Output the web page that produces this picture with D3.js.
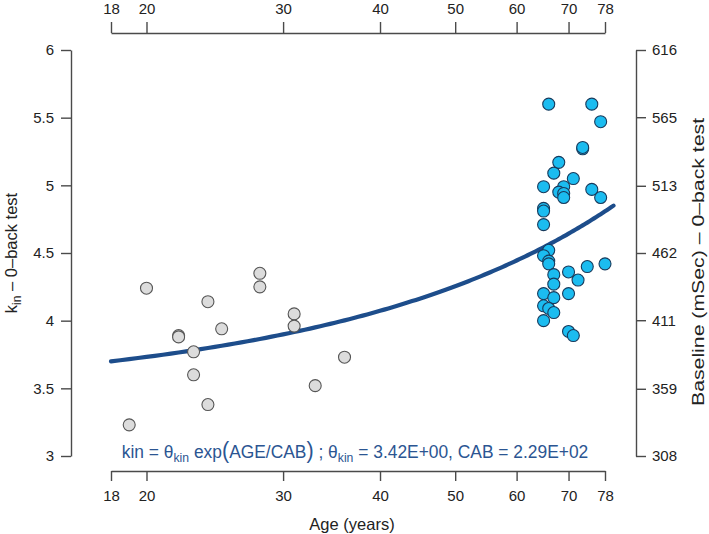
<!DOCTYPE html>
<html>
<head>
<meta charset="utf-8">
<script src="https://cdn.jsdelivr.net/npm/d3@7"></script>
<style>
  html, body { margin: 0; padding: 0; background: #fff; }
  svg { display: block; font-family: "Liberation Sans", Arial, Helvetica, sans-serif; }
</style>
</head>
<body>
<svg id="chart" width="709" height="534"></svg>
<script>
// ---- data ----
const xTickValues = [18, 20, 30, 40, 50, 60, 70, 78];
const leftTickValues = [3, 3.5, 4, 4.5, 5, 5.5, 6];
const rightTickValues = [308, 359, 411, 462, 513, 565, 616];

// young participants (grey)
const youngAge = [19, 20, 22, 22, 23, 23, 24, 24, 25, 28, 28, 31, 31, 33, 36];
const youngKin = [3.23, 4.24, 3.89, 3.88, 3.77, 3.60, 4.14, 3.38, 3.94, 4.35, 4.25, 4.05, 3.96, 3.52, 3.73];

// older participants (blue)
const oldAge = [66, 75, 77, 73, 73, 68, 67, 71, 65, 69, 68, 69, 69, 75, 77, 65, 65, 65, 66, 65, 66, 66, 67, 70, 74, 78, 72, 67, 65, 67, 70, 65, 66, 67, 65, 70, 71];
const oldKin = [5.60, 5.60, 5.47, 5.27, 5.28, 5.17, 5.09, 5.05, 4.99, 4.99, 4.95, 4.94, 4.91, 4.97, 4.91, 4.83, 4.81, 4.71, 4.52, 4.48, 4.44, 4.42, 4.34, 4.36, 4.40, 4.42, 4.30, 4.27, 4.20, 4.17, 4.20, 4.11, 4.09, 4.06, 4.00, 3.92, 3.89];

// fitted model: kin = thetaKin * exp(AGE / CAB)
const thetaKin = 3.42;
const CAB = 229;
const curveAgeRange = [18, 80];

// ---- layout ----
const svg = d3.select("#chart");
const axisColor = "#4a4a4a";
const x = d3.scaleLog().domain([18, 78]).range([111, 605]);
const y = d3.scaleLinear().domain([3, 6]).range([456, 50]);
const yRight = d3.scaleLinear().domain([308, 616]).range([456, 50]);

function styleAxis(g) {
  g.selectAll("path.domain").attr("stroke", axisColor).attr("stroke-width", 1.4);
  g.selectAll(".tick line").attr("stroke", axisColor).attr("stroke-width", 1.4);
  g.selectAll(".tick text").attr("fill", "#222").style("font-size", "15px")
    .style("font-family", '"Liberation Sans", Arial, sans-serif');
}

// bottom axis
svg.append("g").attr("transform", "translate(0,471)")
  .call(d3.axisBottom(x).tickValues(xTickValues).tickFormat(d3.format("d")).tickSize(10).tickSizeOuter(0).tickPadding(9))
  .call(styleAxis);
// top axis
svg.append("g").attr("transform", "translate(0,33)")
  .call(d3.axisTop(x).tickValues(xTickValues).tickFormat(d3.format("d")).tickSize(11).tickSizeOuter(0).tickPadding(8))
  .call(styleAxis);
// left axis
svg.append("g").attr("transform", "translate(71,0)")
  .call(d3.axisLeft(y).tickValues(leftTickValues).tickFormat(d => String(d)).tickSize(10).tickSizeOuter(0).tickPadding(7))
  .call(styleAxis);
// right axis
svg.append("g").attr("transform", "translate(636,0)")
  .call(d3.axisRight(yRight).tickValues(rightTickValues).tickFormat(d3.format("d")).tickSize(10).tickSizeOuter(0).tickPadding(6))
  .call(styleAxis);

// axis titles
svg.append("text").attr("x", 352).attr("y", 530)
  .attr("text-anchor", "middle").style("font-size", "16.5px").attr("fill", "#222")
  .text("Age (years)");

const lt = svg.append("text")
  .attr("transform", "translate(17,253) rotate(-90)")
  .attr("text-anchor", "middle").style("font-size", "16.5px").attr("fill", "#222");
lt.append("tspan").text("k");
lt.append("tspan").attr("dy", 4).style("font-size", "12px").text("in");
lt.append("tspan").attr("dy", -4).text(" \u2013 0\u2013back test");

svg.append("text")
  .attr("transform", "translate(704,262) rotate(-90) scale(1.25,1)")
  .attr("text-anchor", "middle").style("font-size", "17px").attr("fill", "#222")
  .text("Baseline (mSec) \u2013 0\u2013back test");

// fitted curve
const curveAges = d3.range(curveAgeRange[0], curveAgeRange[1] + 0.01, 0.5);
const line = d3.line().x(d => x(d)).y(d => y(thetaKin * Math.exp(d / CAB))).curve(d3.curveLinear);
svg.append("path").datum(curveAges)
  .attr("d", line).attr("fill", "none")
  .attr("stroke", "#1d4d8b").attr("stroke-width", 4.2).attr("stroke-linecap", "round");

// points
const young = youngAge.map((a, i) => ({ age: a, kin: youngKin[i] }));
const old = oldAge.map((a, i) => ({ age: a, kin: oldKin[i] }));

svg.append("g").selectAll("circle").data(young).join("circle")
  .attr("cx", d => x(d.age)).attr("cy", d => y(d.kin)).attr("r", 6)
  .attr("fill", "#dcdcdc").attr("stroke", "#555").attr("stroke-width", 1.1);

svg.append("g").selectAll("circle").data(old).join("circle")
  .attr("cx", d => x(d.age)).attr("cy", d => y(d.kin)).attr("r", 6)
  .attr("fill", "#1bbcf0").attr("stroke", "#173a5c").attr("stroke-width", 1.1);

// formula
const fColor = "#2b5592";
const ft = svg.append("text").attr("x", 355).attr("y", 458)
  .attr("text-anchor", "middle").attr("fill", fColor).style("font-size", "18.5px");
ft.append("tspan").text("kin = \u03b8");
ft.append("tspan").attr("dy", 4).style("font-size", "13px").text("kin");
ft.append("tspan").attr("dy", -4).text(" exp");
ft.append("tspan").style("font-size", "23px").text("(");
ft.append("tspan").text("AGE/CAB");
ft.append("tspan").style("font-size", "23px").text(")");
ft.append("tspan").text(" ; \u03b8");
ft.append("tspan").attr("dy", 4).style("font-size", "13px").text("kin");
ft.append("tspan").attr("dy", -4).text(" = " + thetaKin.toFixed(2) + "E+00, CAB = " + (CAB / 100).toFixed(2) + "E+02");
// fit to measured width of the reference text
const w = ft.node().getComputedTextLength();
if (w > 0) ft.attr("transform", `translate(355,0) scale(${467 / w},1) translate(-355,0)`);
</script>
</body>
</html>
